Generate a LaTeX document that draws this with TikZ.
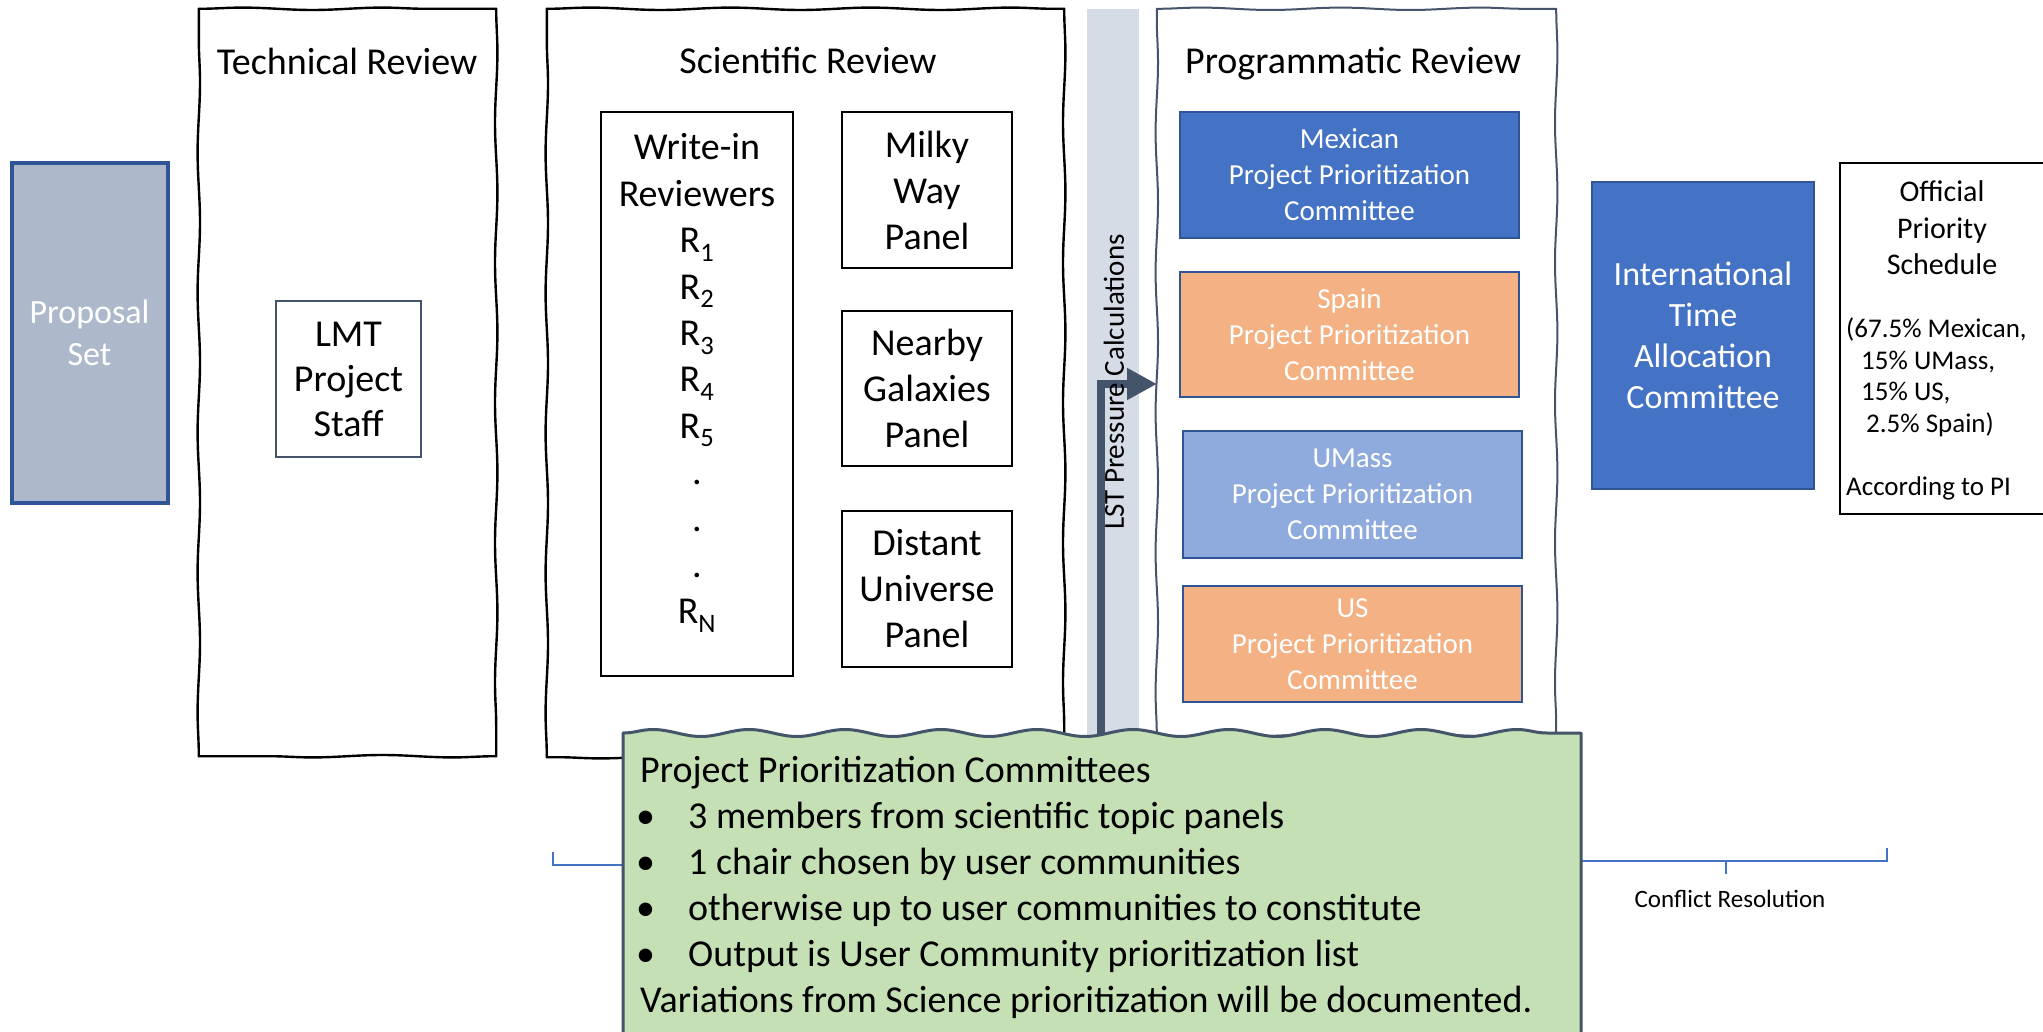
\documentclass[tikz,border=0pt]{standalone}
\usepackage{fontspec}
\setmainfont{Carlito}
\usetikzlibrary{arrows.meta,decorations.pathmorphing}
\definecolor{propfill}{HTML}{ADB9CA}
\definecolor{darkblue}{HTML}{2F5597}
\definecolor{midblue}{HTML}{4472C4}
\definecolor{lightblue}{HTML}{8FAADC}
\definecolor{peach}{HTML}{F4B183}
\definecolor{slate}{HTML}{44546A}
\definecolor{lstgray}{HTML}{D6DCE5}
\definecolor{notegreen}{HTML}{C5E0B4}
\newcommand{\myfs}[2]{\fontsize{#1pt}{#2pt}\selectfont}
\begin{document}
\begin{tikzpicture}[x=1pt,y=-1pt,
  box/.style={rectangle, inner sep=0pt, align=center},
  panelbg/.style={box, fill=white},
  wobble/.style={line width=2.4pt, line cap=round, decorate,
     decoration={snake, amplitude=1.2pt, segment length=140pt}},
  title/.style={box, font=\myfs{38}{46}},
  plainbox/.style={box, draw=black, line width=1.6pt, fill=white, font=\myfs{38}{46}},
  committee/.style={box, draw=darkblue, line width=2pt, text=white, font=\myfs{29}{36}, minimum width=339pt},
  flowarrow/.style={draw=slate, line width=8pt, -{Triangle[length=30pt,width=30pt]}},
  bracestyle/.style={draw=midblue, line width=1.5pt}
]
\useasboundingbox (0,0) rectangle (2043,1032);
\fill[white] (0,0) rectangle (2043,1032);

% Proposal set
\node[box, fill=propfill, draw=darkblue, line width=4pt, minimum width=156pt, minimum height=340pt,
      text=white, font=\myfs{34}{42}] (prop) at (89.5,333) {Proposal\\Set};

% Technical review
\node[panelbg, minimum width=297pt, minimum height=747pt] (tech) at (347.5,382.5) {};
\draw[wobble] (tech.north west) -- (tech.north east);
\draw[wobble] (tech.north east) -- (tech.south east);
\draw[wobble] (tech.south east) -- (tech.south west);
\draw[wobble] (tech.south west) -- (tech.north west);
\node[title] (techtitle) at (347,61) {Technical Review};
\node[box, draw=slate, line width=1.5pt, fill=white, minimum width=145pt, minimum height=156pt,
      font=\myfs{38}{45}] (lmt) at (348.5,379) {LMT\\Project\\Staff};

% Scientific review
\node[panelbg, minimum width=517pt, minimum height=748pt] (sci) at (805.5,383) {};
\draw[wobble] (sci.north west) -- (sci.north east);
\draw[wobble] (sci.north east) -- (sci.south east);
\draw[wobble] (sci.south east) -- (sci.south west);
\draw[wobble] (sci.south west) -- (sci.north west);
\node[title] (scititle) at (808,61) {Scientific Review};
\node[plainbox, minimum width=192pt, minimum height=564pt] (wr) at (697,394) {};
\node[box, font=\myfs{38}{46.4}] (wrtxt) at (697,383) {Write-in\\Reviewers\\R\textsubscript{1}\\R\textsubscript{2}\\R\textsubscript{3}\\R\textsubscript{4}\\R\textsubscript{5}\\.\\.\\.\\R\textsubscript{N}};
\node[plainbox, minimum width=170pt, minimum height=156pt] (mw) at (927,190) {Milky\\Way\\Panel};
\node[plainbox, minimum width=170pt, minimum height=155pt] (ng) at (927,388.5) {Nearby\\Galaxies\\Panel};
\node[plainbox, minimum width=170pt, minimum height=156pt] (du) at (927,589) {Distant\\Universe\\Panel};

% LST bar
\node[box, fill=lstgray, minimum width=52pt, minimum height=727pt] (lst) at (1113,372.5) {};

% Programmatic review
\node[panelbg, minimum width=399pt, minimum height=727pt] (prog) at (1356.5,372.5) {};
\draw[wobble, draw=slate, line width=2pt] (prog.north west) -- (prog.north east);
\draw[wobble, draw=slate, line width=2pt] (prog.north east) -- (prog.south east);
\draw[wobble, draw=slate, line width=2pt] (prog.south east) -- (prog.south west);
\draw[wobble, draw=slate, line width=2pt] (prog.south west) -- (prog.north west);
\node[title] (progtitle) at (1353,64) {Programmatic Review};
\node[committee, fill=midblue, minimum height=126pt] (mex) at (1349.5,175) {Mexican\\Project Prioritization\\Committee};
\node[committee, fill=peach, minimum height=125pt] (spa) at (1349.5,334.5) {Spain\\Project Prioritization\\Committee};
\node[committee, fill=lightblue, minimum height=127pt] (uma) at (1352.5,494.5) {UMass\\Project Prioritization\\Committee};
\node[committee, fill=peach, minimum height=116pt] (usa) at (1352.5,644) {US\\Project Prioritization\\Committee};

% ITAC
\node[box, fill=midblue, draw=darkblue, line width=1.5pt, minimum width=222pt, minimum height=307pt,
      text=white, font=\myfs{34}{41}] (itac) at (1703,335.5) {International\\Time\\Allocation\\Committee};

% Official priority schedule
\node[box, draw=black, line width=2pt, fill=white, minimum width=210pt, minimum height=351pt] (ops) at (1945,338.5) {};
\node[box, font=\myfs{30}{36.5}] (opstitle) at (1942,228) {Official\\Priority\\Schedule};
\node[box, align=left, anchor=north west, font=\myfs{27}{31.5}] (opslist) at (1846,318)
  {(67.5\% Mexican,\\\hspace*{15pt}15\% UMass,\\\hspace*{15pt}15\% US,\\\hspace*{20pt}2.5\% Spain)\\[31.5pt]According to PI};

% braces
\draw[bracestyle] (553,852) -- (553,865) -- (800,865);
\draw[bracestyle] (1565,861) -- (1887,861) -- (1887,848);
\draw[bracestyle] (1726,861) -- (1726,874);
\node[box, font=\myfs{25}{30}] (conflict) at (1730,899) {Conflict Resolution};

% arrow
\coordinate (arrS) at (1101,737);
\coordinate (arrE) at (1157,384);
\draw[flowarrow] (arrS) |- (arrE);
\node[box, rotate=90, font=\myfs{29}{31}] (lsttxt) at (1114,382) {LST Pressure Calculations};

% Green note
\coordinate (gnw) at (623,733);
\coordinate (gne) at (1581,733);
\coordinate (gse) at (1581,1045);
\coordinate (gsw) at (623,1045);
\filldraw[fill=notegreen, draw=slate, line width=3pt, line join=round]
  (gsw) -- (gnw) decorate[decoration={snake, amplitude=3.5pt, segment length=96pt}] {-- (gne)} -- (gse) -- cycle;
\node[box, align=left, anchor=north west, font=\myfs{38}{46}] (ppc) at (640,756)
  {Project Prioritization Committees\\
   \hspace*{-4pt}\makebox[52pt][l]{\textbullet}3 members from scientific topic panels\\
   \hspace*{-4pt}\makebox[52pt][l]{\textbullet}1 chair chosen by user communities\\
   \hspace*{-4pt}\makebox[52pt][l]{\textbullet}otherwise up to user communities to constitute\\
   \hspace*{-4pt}\makebox[52pt][l]{\textbullet}Output is User Community prioritization list\\
   Variations from Science prioritization will be documented.};
\end{tikzpicture}
\end{document}
